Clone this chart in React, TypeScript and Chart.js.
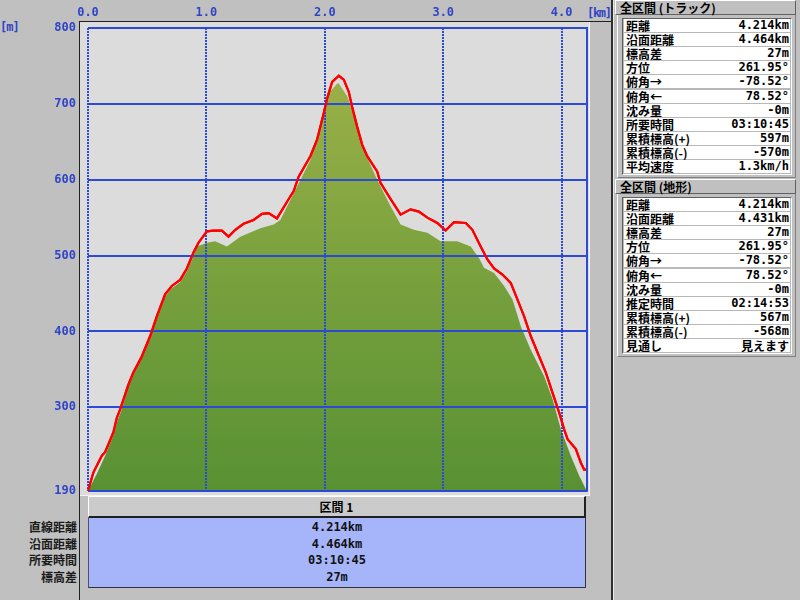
import React, { useEffect, useRef } from "react";
import { Chart, registerables } from "chart.js";

Chart.register(...registerables);

// ---- data ----
const trackKm = [0.0, 0.045, 0.116, 0.144, 0.214, 0.243, 0.271, 0.341, 0.383, 0.454, 0.525, 0.581, 0.651, 0.708, 0.778, 0.835, 0.891, 0.933, 1.004, 1.06, 1.131, 1.187, 1.244, 1.314, 1.398, 1.47, 1.525, 1.596, 1.681, 1.737, 1.779, 1.878, 1.935, 1.991, 2.019, 2.062, 2.118, 2.16, 2.202, 2.231, 2.273, 2.316, 2.358, 2.442, 2.47, 2.541, 2.64, 2.724, 2.794, 2.866, 2.95, 3.02, 3.091, 3.19, 3.246, 3.316, 3.373, 3.429, 3.5, 3.57, 3.627, 3.683, 3.739, 3.81, 3.866, 3.923, 3.979, 4.021, 4.05, 4.12, 4.162, 4.19, 4.214];
const trackElev = [190, 214, 236, 241, 267, 286, 297, 330, 346, 367, 394, 420, 449, 460, 468, 483, 504, 517, 532, 533, 533, 525, 534, 542, 547, 555, 556, 549, 571, 585, 604, 631, 653, 688, 707, 729, 737, 732, 716, 696, 670, 646, 631, 611, 596, 578, 554, 561, 558, 550, 543, 533, 544, 543, 534, 512, 495, 483, 475, 464, 442, 420, 394, 367, 346, 319, 293, 271, 258, 245, 227, 218, 218];

const terrainKm = [0.0, 0.074, 0.144, 0.214, 0.25, 0.28, 0.341, 0.383, 0.454, 0.525, 0.581, 0.651, 0.708, 0.778, 0.835, 0.891, 0.92, 1.004, 1.074, 1.173, 1.286, 1.455, 1.568, 1.624, 1.737, 1.878, 1.963, 2.033, 2.104, 2.118, 2.189, 2.259, 2.329, 2.442, 2.555, 2.64, 2.752, 2.866, 2.978, 3.119, 3.232, 3.302, 3.344, 3.429, 3.514, 3.585, 3.655, 3.739, 3.852, 3.923, 3.993, 4.078, 4.148, 4.205, 4.214];
const terrainElev = [190, 212, 236, 263, 283, 295, 327, 343, 365, 391, 417, 446, 457, 465, 479, 499, 512, 517, 519, 512, 525, 536, 541, 547, 582, 626, 666, 714, 727, 727, 710, 679, 639, 600, 565, 541, 534, 530, 519, 519, 512, 497, 484, 477, 460, 442, 407, 376, 341, 311, 271, 236, 210, 192, 190];

const xTicks = [0, 1, 2, 3, 4];
const yTicks = [190, 300, 400, 500, 600, 700, 800];
const xMax = 4.214;
const yMin = 190;
const yMax = 800;
const xUnit = "[km]";
const yUnit = "[m]";

const trackTitle = "全区間 (トラック)";
const trackLabels = ["距離", "沿面距離", "標高差", "方位", "俯角→", "俯角←", "沈み量", "所要時間", "累積標高(+)", "累積標高(-)", "平均速度"];
const trackValues = ["4.214km", "4.464km", "27m", "261.95°", "-78.52°", "78.52°", "-0m", "03:10:45", "597m", "-570m", "1.3km/h"];

const terrainTitle = "全区間 (地形)";
const terrainLabels = ["距離", "沿面距離", "標高差", "方位", "俯角→", "俯角←", "沈み量", "推定時間", "累積標高(+)", "累積標高(-)", "見通し"];
const terrainValues = ["4.214km", "4.431km", "27m", "261.95°", "-78.52°", "78.52°", "-0m", "02:14:53", "567m", "-568m", "見えます"];

const sectionTitle = "区間 1";
const sectionLabels = ["直線距離", "沿面距離", "所要時間", "標高差"];
const sectionValues = ["4.214km", "4.464km", "03:10:45", "27m"];

const MONO = '"DejaVu Sans Mono", "Liberation Mono", monospace';
const JP = '"Noto Sans CJK JP", "Noto Sans", sans-serif';
const GRID_BLUE = "#2c4ad6";
const LABEL_BLUE = "#3044c8";

function InfoTable({ title, labels, values, top }: { title: string; labels: string[]; values: string[]; top: number }) {
  const rowH = 14.1;
  return (
    <>
      <div
        style={{
          position: "absolute", left: 615, top, width: 181, height: 15, boxSizing: "border-box",
          background: "#c0c0c0", borderTop: "1px solid #ffffff", borderLeft: "1px solid #ffffff",
          borderRight: "1px solid #606060", borderBottom: "1px solid #606060",
          fontFamily: JP, fontWeight: 700, fontSize: 12, lineHeight: "13px", paddingLeft: 4, color: "#000", whiteSpace: "nowrap",
        }}
      >
        {title}
      </div>
      <div
        style={{
          position: "absolute", left: 617, top: top + 15, width: 179, height: 163, boxSizing: "border-box",
          borderLeft: "1px solid #ffffff", borderRight: "1px solid #808080", borderBottom: "1px solid #808080",
        }}
      />
      <div
        style={{
          position: "absolute", left: 622, top: top + 18, width: 170, height: labels.length * rowH + 2, boxSizing: "border-box",
          borderTop: "1px solid #606060", borderLeft: "1px solid #606060", borderRight: "1px solid #ffffff", borderBottom: "1px solid #ffffff",
          background: "#b8b8b8",
        }}
      >
        {labels.map((l, i) => (
          <div
            key={i}
            style={{
              position: "absolute", left: 1, top: i * rowH, width: 166, height: rowH - 1, background: "#ffffff",
              fontWeight: 700, fontSize: 12, lineHeight: `${rowH - 1}px`, color: "#000", whiteSpace: "nowrap",
            }}
          >
            <span style={{ position: "absolute", left: 2, top: 0, fontFamily: JP }}>{l}</span>
            <span style={{ position: "absolute", right: 1, top: 0, fontFamily: /[ぁ-ん一-龯]/.test(values[i]) ? JP : MONO }}>{values[i]}</span>
          </div>
        ))}
      </div>
    </>
  );
}

export default function App() {
  const ref = useRef<HTMLCanvasElement>(null);

  useEffect(() => {
    const canvas = ref.current;
    if (!canvas) return;

    const overlay = {
      id: "overlay",
      afterDraw(chart: any) {
        const { ctx, chartArea: a } = chart;
        // redraw the track line above the grid
        ctx.save();
        ctx.beginPath();
        ctx.rect(a.left - 1, a.top - 1, a.right - a.left + 2, a.bottom - a.top + 2);
        ctx.clip();
        chart.getDatasetMeta(0).controller.draw();
        ctx.restore();
        // solid right frame
        ctx.save();
        ctx.strokeStyle = GRID_BLUE;
        ctx.lineWidth = 2;
        ctx.beginPath();
        ctx.moveTo(a.right, a.top - 1);
        ctx.lineTo(a.right, a.bottom + 1);
        ctx.stroke();
        ctx.restore();
      },
    };

    const tickFont = { family: MONO, size: 12, weight: "bold" as const };

    const chart = new Chart(canvas, {
      type: "line",
      data: {
        datasets: [
          {
            label: "track",
            data: trackKm.map((x, i) => ({ x, y: trackElev[i] })),
            borderColor: "#ff0000",
            borderWidth: 2.2,
            pointRadius: 0,
            fill: false,
            tension: 0,
            order: 0,
          },
          {
            label: "terrain",
            data: terrainKm.map((x, i) => ({ x, y: terrainElev[i] })),
            borderColor: "rgba(0,0,0,0)",
            borderWidth: 0,
            pointRadius: 0,
            tension: 0,
            fill: "start",
            backgroundColor: (c: any) => {
              const a = c.chart.chartArea;
              if (!a) return "#78a03c";
              const g = c.chart.ctx.createLinearGradient(0, a.top, 0, a.bottom);
              g.addColorStop(0, "#a3b44a");
              g.addColorStop(0.5, "#7ba23e");
              g.addColorStop(1, "#589133");
              return g;
            },
            order: 1,
          },
        ],
      },
      options: {
        responsive: false,
        animation: false,
        devicePixelRatio: 1,
        layout: { padding: { left: 0, right: 25, top: 0, bottom: 18 } },
        plugins: { legend: { display: false }, tooltip: { enabled: false } },
        scales: {
          x: {
            type: "linear",
            position: "top",
            min: 0,
            max: xMax,
            afterBuildTicks: (s: any) => {
              s.ticks = xTicks.map((v) => ({ value: v }));
            },
            afterFit: (s: any) => {
              s.height = 28;
            },
            grid: { color: GRID_BLUE, lineWidth: 2, drawTicks: false, z: 1 },
            border: { display: false, dash: [2, 1] },
            ticks: {
              color: LABEL_BLUE,
              font: tickFont,
              padding: 8,
              maxRotation: 0,
              autoSkip: false,
              callback: (v: any) => Number(v).toFixed(1),
            },
          },
          y: {
            type: "linear",
            min: yMin,
            max: yMax,
            afterBuildTicks: (s: any) => {
              s.ticks = yTicks.map((v) => ({ value: v }));
            },
            afterFit: (s: any) => {
              s.width = 88;
            },
            grid: { color: GRID_BLUE, lineWidth: 2, drawTicks: false, z: 1 },
            border: { display: false },
            ticks: {
              color: LABEL_BLUE,
              font: tickFont,
              padding: 12,
              autoSkip: false,
              callback: (v: any) => String(v),
            },
          },
        },
      },
      plugins: [overlay],
    } as any);

    return () => chart.destroy();
  }, []);

  return (
    <div
      style={{
        position: "fixed", left: 0, top: 0, width: 800, height: 600, background: "#c0c0c0",
        overflow: "hidden", fontFamily: JP,
      }}
    >
      {/* plot panel frame */}
      <div style={{ position: "absolute", left: 79, top: 21, width: 534, height: 590, borderTop: "1px solid #202020", borderLeft: "1px solid #202020" }} />
      <div style={{ position: "absolute", left: 80, top: 22, width: 509, height: 473, background: "#dcdcdc", borderRight: "1px solid #f4f4f4", borderBottom: "1px solid #f4f4f4" }} />
      {/* right divider */}
      <div style={{ position: "absolute", left: 611, top: 0, width: 2, height: 600, background: "#303030" }} />
      <div style={{ position: "absolute", left: 613, top: 0, width: 1, height: 600, background: "#e8e8e8" }} />

      {/* axis units */}
      <div style={{ position: "absolute", left: 0, top: 20, fontFamily: MONO, fontWeight: 700, fontSize: 12, lineHeight: "14px", letterSpacing: "-1px", color: LABEL_BLUE }}>{yUnit}</div>
      <div style={{ position: "absolute", left: 587, top: 6, fontFamily: MONO, fontWeight: 700, fontSize: 12, lineHeight: "14px", letterSpacing: "-1.3px", color: LABEL_BLUE }}>{xUnit}</div>

      {/* section table */}
      <div
        style={{
          position: "absolute", left: 88, top: 496, width: 498, height: 22, boxSizing: "border-box",
          background: "#cbcbcb", borderTop: "1px solid #ffffff", borderLeft: "1px solid #ffffff",
          borderRight: "2px solid #202020", borderBottom: "2px solid #202020",
          textAlign: "center", fontWeight: 700, fontSize: 12, lineHeight: "19px", color: "#000",
        }}
      >
        {sectionTitle}
      </div>
      <div
        style={{
          position: "absolute", left: 88, top: 518, width: 498, height: 70, boxSizing: "border-box",
          background: "#a6b5fa", borderLeft: "1px solid #505070", borderRight: "1px solid #303040", borderBottom: "1px solid #303040",
        }}
      >
        {sectionValues.map((v, i) => (
          <div key={i} style={{ position: "absolute", left: 0, width: "100%", top: 1 + i * 16.7, height: 16.7, textAlign: "center", fontFamily: MONO, fontWeight: 700, fontSize: 12, lineHeight: "16.7px", color: "#111" }}>
            {v}
          </div>
        ))}
      </div>
      {sectionLabels.map((l, i) => (
        <div key={i} style={{ position: "absolute", right: 800 - 77, top: 519 + i * 16.7, height: 16.7, fontWeight: 700, fontSize: 12, lineHeight: "16.7px", color: "#1a1a1a", whiteSpace: "nowrap" }}>
          {l}
        </div>
      ))}

      {/* right info tables */}
      <InfoTable title={trackTitle} labels={trackLabels} values={trackValues} top={0} />
      <InfoTable title={terrainTitle} labels={terrainLabels} values={terrainValues} top={179} />

      <canvas ref={ref} width={612} height={510} style={{ position: "absolute", left: 0, top: 0 }} />
    </div>
  );
}
